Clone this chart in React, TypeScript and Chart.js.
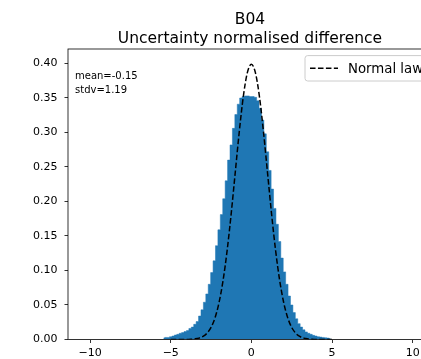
import React, { useEffect, useRef } from "react";
import { Chart, registerables } from "chart.js";

Chart.register(...registerables);

const binCenters = [
  -5.45, -5.3, -5.15, -5.0, -4.85, -4.7, -4.55, -4.4, -4.25, -4.1,
  -3.95, -3.8, -3.65, -3.5, -3.35, -3.2, -3.05, -2.9, -2.75, -2.6,
  -2.45, -2.3, -2.15, -2.0, -1.85, -1.7, -1.55, -1.4, -1.25, -1.1,
  -0.95, -0.8, -0.65, -0.5, -0.35, -0.2, -0.05, 0.1, 0.25, 0.4,
  0.55, 0.7, 0.85, 1.0, 1.15, 1.3, 1.45, 1.6, 1.75, 1.9,
  2.05, 2.2, 2.35, 2.5, 2.65, 2.8, 2.95, 3.1, 3.25, 3.4,
  3.55, 3.7, 3.85, 4.0, 4.15, 4.3, 4.45, 4.6, 4.75, 4.9,
];

const binDensity = [
  0.002, 0.003, 0.003, 0.004, 0.005, 0.0065, 0.0075, 0.009, 0.01, 0.0115,
  0.013, 0.016, 0.018, 0.022, 0.026, 0.034, 0.043, 0.054, 0.066, 0.08,
  0.097, 0.114, 0.136, 0.159, 0.181, 0.204, 0.23, 0.26, 0.282, 0.306,
  0.326, 0.341, 0.35, 0.352, 0.353, 0.353, 0.352, 0.352, 0.351, 0.346,
  0.335, 0.318, 0.298, 0.272, 0.245, 0.218, 0.19, 0.167, 0.142, 0.118,
  0.098, 0.08, 0.063, 0.05, 0.039, 0.03, 0.023, 0.018, 0.014, 0.011,
  0.009, 0.0075, 0.006, 0.005, 0.004, 0.0035, 0.003, 0.0025, 0.002, 0.0015,
];

const normalX = [
  -5.0, -4.75, -4.5, -4.25, -4.0, -3.75, -3.5, -3.25, -3.0, -2.75,
  -2.5, -2.25, -2.0, -1.75, -1.5, -1.25, -1.0, -0.75, -0.5, -0.25,
  0.0, 0.25, 0.5, 0.75, 1.0, 1.25, 1.5, 1.75, 2.0, 2.25,
  2.5, 2.75, 3.0, 3.25, 3.5, 3.75, 4.0, 4.25, 4.5, 4.75, 5.0,
];

const normalY = [
  0.0000015, 0.000005, 0.00002, 0.00005, 0.0001, 0.0004, 0.0009, 0.002, 0.0044, 0.0091,
  0.0175, 0.0317, 0.054, 0.0863, 0.1295, 0.1826, 0.242, 0.3011, 0.3521, 0.3867,
  0.3989, 0.3867, 0.3521, 0.3011, 0.242, 0.1826, 0.1295, 0.0863, 0.054, 0.0317,
  0.0175, 0.0091, 0.0044, 0.002, 0.0009, 0.0004, 0.0001, 0.00005, 0.00002, 0.000005, 0.0000015,
];

const xTicks = [-10, -5, 0, 5, 10];
const yTicks = [0, 0.05, 0.1, 0.15, 0.2, 0.25, 0.3, 0.35, 0.4];
const titleLines = ["B04", "Uncertainty normalised difference"];
const statsLines = ["mean=-0.15", "stdv=1.19"];
const legendLabel = "Normal law";

const FONT = '"DejaVu Sans", sans-serif';

export default function App() {
  const ref = useRef<HTMLCanvasElement>(null);

  useEffect(() => {
    if (!ref.current) return;

    const overlay = {
      id: "overlay",
      afterDraw(chart: any) {
        const { ctx, chartArea: a } = chart;
        ctx.save();
        // frame
        ctx.strokeStyle = "#000";
        ctx.lineWidth = 0.8;
        ctx.setLineDash([]);
        ctx.strokeRect(a.left, a.top, a.right - a.left, a.bottom - a.top);

        // title
        ctx.fillStyle = "#000";
        ctx.textAlign = "center";
        ctx.textBaseline = "alphabetic";
        ctx.font = `15.5px ${FONT}`;
        const cx = (a.left + a.right) / 2;
        ctx.fillText(titleLines[0], cx, 24.2);
        ctx.fillText(titleLines[1], cx, 42.5);

        // stats text
        ctx.textAlign = "left";
        ctx.font = `10px ${FONT}`;
        ctx.fillText(statsLines[0], a.left + 7, a.top + 29.5);
        ctx.fillText(statsLines[1], a.left + 7, a.top + 43.5);

        // legend
        const lr = a.right - 5;
        const ll = lr - 122;
        const lt = a.top + 6.6;
        const lb = lt + 25.4;
        ctx.beginPath();
        (ctx as any).roundRect(ll, lt, lr - ll, lb - lt, 2.7);
        ctx.fillStyle = "rgba(255,255,255,0.8)";
        ctx.fill();
        ctx.strokeStyle = "#cccccc";
        ctx.lineWidth = 1;
        ctx.stroke();

        const ly = lt + 12.7;
        ctx.beginPath();
        ctx.setLineDash([5.55, 2.4]);
        ctx.strokeStyle = "#000";
        ctx.lineWidth = 1.5;
        ctx.moveTo(ll + 5, ly);
        ctx.lineTo(ll + 33, ly);
        ctx.stroke();
        ctx.setLineDash([]);

        ctx.fillStyle = "#000";
        ctx.font = `13.3px ${FONT}`;
        ctx.fillText(legendLabel, ll + 43, ly + 4.2);
        ctx.restore();
      },
    };

    const fmtX = (v: number) => (v < 0 ? "\u2212" + Math.abs(v) : String(v));

    const chart = new Chart(ref.current, {
      type: "line",
      data: {
        datasets: [
          {
            label: legendLabel,
            data: normalX.map((x, i) => ({ x, y: normalY[i] })),
            borderColor: "#000",
            borderWidth: 1.5,
            borderDash: [5.55, 2.4],
            pointRadius: 0,
            cubicInterpolationMode: "monotone",
            fill: false,
            order: 0,
          } as any,
          {
            label: "histogram",
            data: binCenters.map((x, i) => ({ x, y: binDensity[i] })),
            backgroundColor: "#1f77b4",
            borderColor: "#1f77b4",
            borderWidth: 0.5,
            stepped: "middle",
            pointRadius: 0,
            fill: "origin",
            order: 1,
          } as any,
        ],
      },
      options: {
        responsive: false,
        animation: false,
        devicePixelRatio: 1,
        layout: { padding: { top: 49, right: 68, left: 0, bottom: 0 } },
        plugins: {
          legend: { display: false },
          tooltip: { enabled: false },
          title: { display: false },
          filler: { propagate: false },
        },
        scales: {
          x: {
            type: "linear",
            min: -11.37,
            max: 11.2,
            offset: false,
            afterBuildTicks: (s: any) => {
              s.ticks = xTicks.map((v) => ({ value: v }));
            },
            afterFit: (s: any) => {
              s.height = 19.5;
            },
            grid: {
              drawOnChartArea: false,
              drawTicks: true,
              tickLength: 3.5,
              color: "#000",
              lineWidth: 0.8,
            },
            border: { display: false },
            ticks: {
              font: { family: FONT, size: 11 },
              color: "#000",
              padding: 4,
              maxRotation: 0,
              autoSkip: false,
              callback: (v: any) => fmtX(Number(v)),
            },
          },
          y: {
            type: "linear",
            min: 0,
            max: 0.421,
            afterBuildTicks: (s: any) => {
              s.ticks = yTicks.map((v) => ({ value: v }));
            },
            afterFit: (s: any) => {
              s.width = 68;
            },
            grid: {
              drawOnChartArea: false,
              drawTicks: true,
              tickLength: 3.5,
              color: "#000",
              lineWidth: 0.8,
            },
            border: { display: false },
            ticks: {
              font: { family: FONT, size: 11 },
              color: "#000",
              padding: 7,
              autoSkip: false,
              callback: (v: any) => Number(v).toFixed(2),
            },
          },
        },
      } as any,
      plugins: [overlay],
    });

    return () => chart.destroy();
  }, []);

  return (
    <div
      style={{
        position: "fixed",
        left: 0,
        top: 0,
        width: 421,
        height: 359,
        overflow: "hidden",
        background: "#fff",
      }}
    >
      <canvas
        ref={ref}
        width={500}
        height={359}
        style={{ width: 500, height: 359, display: "block" }}
      />
    </div>
  );
}
